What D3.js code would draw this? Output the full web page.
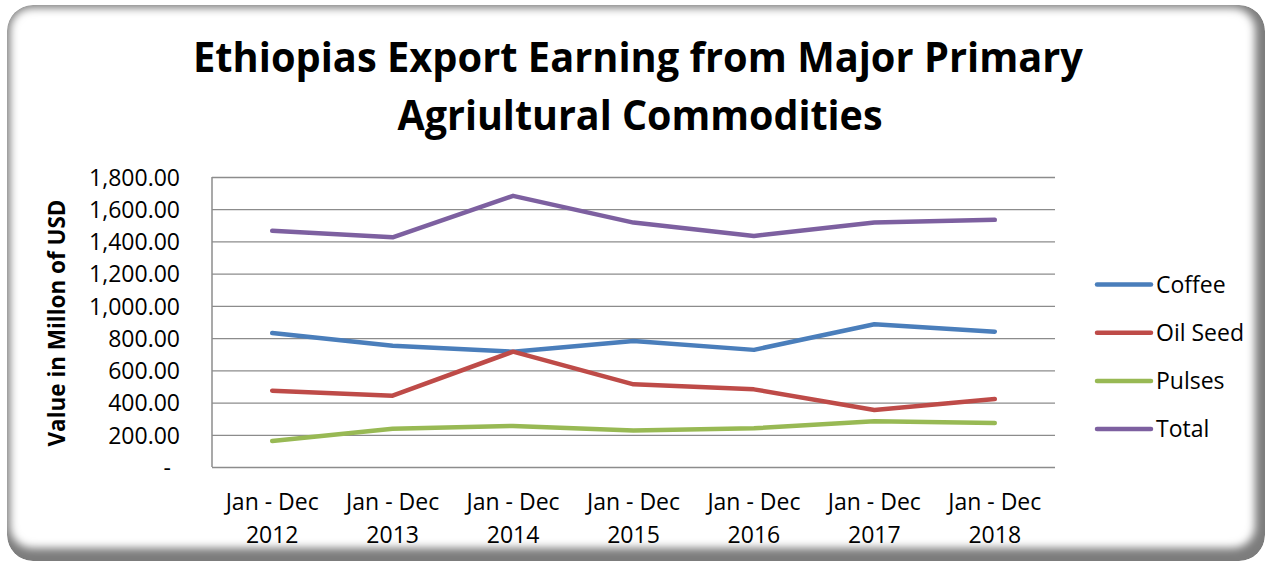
<!DOCTYPE html>
<html>
<head>
<meta charset="utf-8">
<script src="https://cdn.jsdelivr.net/npm/d3@7"></script>
<style>
  html, body { margin: 0; padding: 0; background: #fff; }
  svg text { font-family: 'Open Sans', sans-serif; fill: #000; }
</style>
</head>
<body>
<div id="chart"></div>
<script>
const w = 1268
const h = 563

const years = ['2012', '2013', '2014', '2015', '2016', '2017', '2018']
const coffee = [832, 753, 716, 782, 727, 886, 840]
const oilSeed = [474, 443, 716, 513, 482, 354, 422]
const pulses = [161, 238, 255, 226, 240, 284, 273]
const total = [1466, 1426, 1683, 1517, 1434, 1517, 1534]
const seriesNames = ['Coffee', 'Oil Seed', 'Pulses', 'Total']
const yTicks = [0, 200, 400, 600, 800, 1000, 1200, 1400, 1600, 1800]

const colors = ['#4a7ebb', '#be4b48', '#98b954', '#7d60a0']
const series = [coffee, oilSeed, pulses, total]

const svg = d3.select('#chart')
    .append('svg')
    .attr('width', w)
    .attr('height', h)

// frame with soft inner shadow
const defs = svg.append('defs')
defs.append('filter')
    .attr('id', 'soft')
    .attr('x', '-5%').attr('y', '-5%').attr('width', '110%').attr('height', '110%')
    .append('feGaussianBlur')
    .attr('stdDeviation', 4.5)
defs.append('clipPath')
    .attr('id', 'frameClip')
    .append('rect')
    .attr('x', 7).attr('y', 5)
    .attr('width', 1258).attr('height', 556)
    .attr('rx', 26)

const frame = svg.append('g').attr('clip-path', 'url(#frameClip)')
frame.append('rect')
    .attr('x', 7).attr('y', 5)
    .attr('width', 1258).attr('height', 556)
    .attr('rx', 26)
    .attr('fill', '#7c7c7c')
frame.append('rect')
    .attr('x', 10).attr('y', 8)
    .attr('width', 1245).attr('height', 540)
    .attr('rx', 22)
    .attr('fill', '#fff')
    .attr('filter', 'url(#soft)')

// title
const title = svg.append('text')
    .attr('text-anchor', 'middle')
    .style('font-weight', 'bold')
    .style('font-size', '42px')
title.append('tspan').attr('x', 638).attr('y', 72)
    .attr('textLength', 890).attr('lengthAdjust', 'spacingAndGlyphs')
    .text('Ethiopias Export Earning from Major Primary')
title.append('tspan').attr('x', 640).attr('y', 130)
    .attr('textLength', 485).attr('lengthAdjust', 'spacingAndGlyphs')
    .text('Agriultural Commodities')

const xScale = d3.scaleBand()
    .domain(years)
    .range([212, 1055])

const yScale = d3.scaleLinear()
    .domain([0, 1800])
    .range([467, 177])

// gridlines + y labels
const yAxis = d3.axisLeft(yScale)
    .tickValues(yTicks)
    .tickSize(-(1055 - 212))
    .tickPadding(32)
    .tickFormat(d => d === 0 ? '-' : d3.format(',.2f')(d))

const gy = svg.append('g')
    .attr('transform', 'translate(212,0)')
    .call(yAxis)
gy.select('.domain').remove()
gy.selectAll('.tick line')
    .attr('stroke', '#8c8c8c')
    .attr('stroke-width', 1.3)
gy.selectAll('.tick text')
    .style('font-size', '23px')
    .attr('dy', '0.36em')
    .attr('x', d => d === 0 ? -41 : -32)

svg.append('line')
    .attr('x1', 212).attr('x2', 212)
    .attr('y1', yScale(1800)).attr('y2', yScale(0))
    .attr('stroke', '#8c8c8c')
    .attr('stroke-width', 1.5)

// y axis title
svg.append('text')
    .attr('transform', 'translate(65,323) rotate(-90)')
    .attr('text-anchor', 'middle')
    .attr('textLength', 247).attr('lengthAdjust', 'spacingAndGlyphs')
    .style('font-weight', 'bold')
    .style('font-size', '23px')
    .text('Value in Millon of USD')

// x labels
const xl = svg.append('g')
    .selectAll('text')
    .data(years)
    .enter()
    .append('text')
    .attr('text-anchor', 'middle')
    .style('font-size', '23px')
xl.append('tspan')
    .attr('x', d => xScale(d) + xScale.bandwidth() / 2)
    .attr('y', 510)
    .text('Jan - Dec')
xl.append('tspan')
    .attr('x', d => xScale(d) + xScale.bandwidth() / 2)
    .attr('y', 543)
    .text(d => d)

// lines
const line = d3.line()
    .x((d, i) => xScale(years[i]) + xScale.bandwidth() / 2)
    .y(d => yScale(d))

svg.append('g')
    .selectAll('path')
    .data(series)
    .enter()
    .append('path')
    .attr('d', line)
    .attr('fill', 'none')
    .attr('stroke', (d, i) => colors[i])
    .attr('stroke-width', 4.5)
    .attr('stroke-linecap', 'round')
    .attr('stroke-linejoin', 'round')

// legend
const lg = svg.append('g')
    .selectAll('g')
    .data(seriesNames)
    .enter()
    .append('g')
    .attr('transform', (d, i) => 'translate(1097,' + (284.5 + i * 48.2) + ')')
lg.append('line')
    .attr('x1', 0).attr('x2', 54)
    .attr('stroke', (d, i) => colors[i])
    .attr('stroke-width', 4.5)
    .attr('stroke-linecap', 'round')
lg.append('text')
    .attr('x', 59)
    .attr('dy', '0.36em')
    .style('font-size', '23px')
    .text(d => d)
</script>
</body>
</html>
